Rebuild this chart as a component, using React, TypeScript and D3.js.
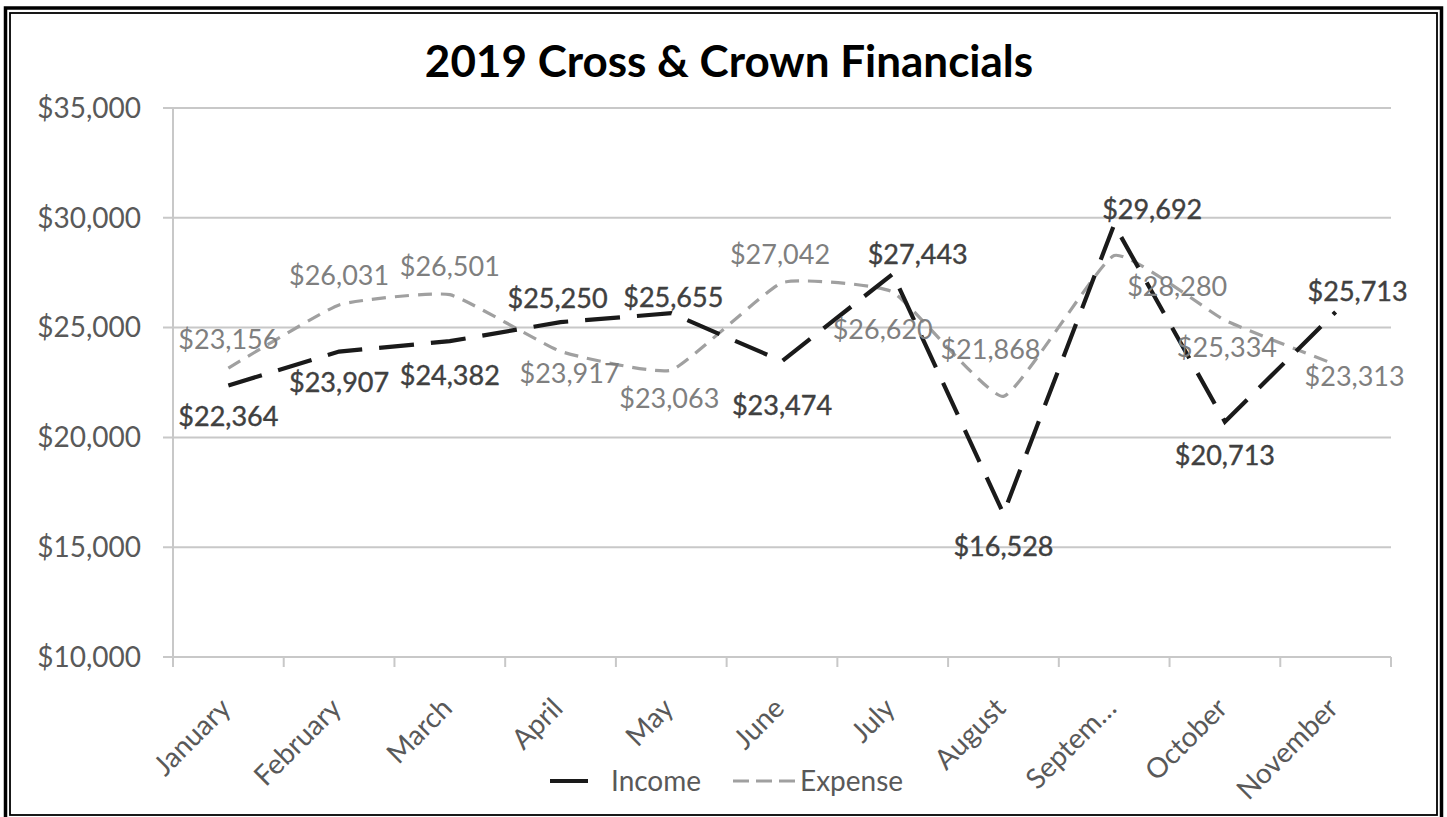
import React from 'react';
import * as d3 from 'd3';

// chart values
const months = ['January', 'February', 'March', 'April', 'May', 'June', 'July', 'August', 'Septem…', 'October', 'November'];
const income = [22364, 23907, 24382, 25250, 25655, 23474, 27443, 16528, 29692, 20713, 25713];
const expense = [23156, 26031, 26501, 23917, 23063, 27042, 26620, 21868, 28280, 25334, 23313];
const yTicks = [10000, 15000, 20000, 25000, 30000, 35000];

// label offsets from the point (label centre), as placed in the original
const incomeLabelOffset: [number, number][] = [
    [0, 31], [0, 31], [0, 34], [-3, -24], [2, -16], [0, 44], [25, -19], [0, 33], [38, -15], [0, 34], [22, -20],
];
const expenseLabelOffset: [number, number][] = [
    [0, -29], [0, -29], [0, -28], [9, 22], [-2, 28], [-2, -28], [-10, 38], [-13, -47], [63, 31], [2, 27], [19, 12],
];

const W = 1447;
const H = 817;
const plot = { left: 173, right: 1391, top: 108, bottom: 657 };

const FONT = 'Lato, "Open Sans", sans-serif';
const money = (v: number) => '$' + d3.format(',')(v);

const App: React.FC = () => {
    const x = d3.scaleBand<string>()
        .domain(months)
        .range([plot.left, plot.right])
        .padding(0);
    const cx = (m: string) => (x(m) as number) + x.bandwidth() / 2;

    const y = d3.scaleLinear()
        .domain([10000, 35000])
        .range([plot.bottom, plot.top]);

    const incomeLine = d3.line<number>()
        .x((_, i) => cx(months[i]))
        .y(d => y(d));

    // expense is drawn as a smoothed line in the original
    const expenseLine = d3.line<number>()
        .x((_, i) => cx(months[i]))
        .y(d => y(d))
        .curve(d3.curveCardinal.tension(0.6));

    const boundaries = months.map(m => x(m) as number).concat([plot.right]);

    return (
        <svg width={W} height={H} style={{ position: 'absolute', left: 0, top: 0, background: '#fff' }}
            fontFamily={FONT}>
            <rect x={0} y={0} width={W} height={H} fill="#fff" />
            {/* double frame */}
            <rect x={5.5} y={8} width={1436} height={820} fill="none" stroke="#000" strokeWidth={3.5} />
            <rect x={10} y={13} width={1427} height={802} fill="none" stroke="#000" strokeWidth={1.8} />

            <text x={729} y={77} textAnchor="middle" fontSize={44} fontWeight="bold" fill="#000">
                2019 Cross &amp; Crown Financials
            </text>

            {/* gridlines + y labels */}
            {yTicks.map(t => (
                <g key={t}>
                    <line x1={plot.left - 10} x2={plot.right} y1={y(t)} y2={y(t)} stroke="#c8c8c8" strokeWidth={2} />
                    <text x={141} y={y(t)} dy="0.35em" textAnchor="end" fontSize={28} fill="#595959">
                        {money(t)}
                    </text>
                </g>
            ))}
            <line x1={plot.left} x2={plot.left} y1={plot.top} y2={plot.bottom} stroke="#c8c8c8" strokeWidth={2} />
            {boundaries.map((b, i) => (
                <line key={i} x1={b} x2={b} y1={plot.bottom} y2={plot.bottom + 10} stroke="#c8c8c8" strokeWidth={2} />
            ))}

            {/* x labels */}
            {months.map(m => (
                <text key={m} textAnchor="end" fontSize={28} fill="#595959"
                    transform={`translate(${cx(m) + 4},${plot.bottom + 53}) rotate(-45)`}>
                    {m}
                </text>
            ))}

            {/* series */}
            <path d={expenseLine(expense) ?? ''} fill="none" stroke="#a0a0a0" strokeWidth={3.2}
                strokeDasharray="14 9" />
            <path d={incomeLine(income) ?? ''} fill="none" stroke="#1a1a1a" strokeWidth={4.2}
                strokeDasharray="35 17" />

            {/* data labels */}
            {expense.map((v, i) => (
                <text key={'e' + i} x={cx(months[i]) + expenseLabelOffset[i][0]} y={y(v) + expenseLabelOffset[i][1]}
                    dy="0.35em" textAnchor="middle" fontSize={27} fill="#7f7f7f">
                    {money(v)}
                </text>
            ))}
            {income.map((v, i) => (
                <text key={'i' + i} x={cx(months[i]) + incomeLabelOffset[i][0]} y={y(v) + incomeLabelOffset[i][1]}
                    dy="0.35em" textAnchor="middle" fontSize={27} fill="#404040" stroke="#404040" strokeWidth={0.4}>
                    {money(v)}
                </text>
            ))}

            {/* legend */}
            <line x1={550} x2={588} y1={781} y2={781} stroke="#1a1a1a" strokeWidth={4.2} />
            <text x={611} y={781} dy="0.35em" fontSize={28} fill="#595959">Income</text>
            <line x1={733} x2={796} y1={781} y2={781} stroke="#a0a0a0" strokeWidth={3.2} strokeDasharray="16 7" />
            <text x={800} y={781} dy="0.35em" fontSize={28} fill="#595959">Expense</text>
        </svg>
    );
};

export default App;
